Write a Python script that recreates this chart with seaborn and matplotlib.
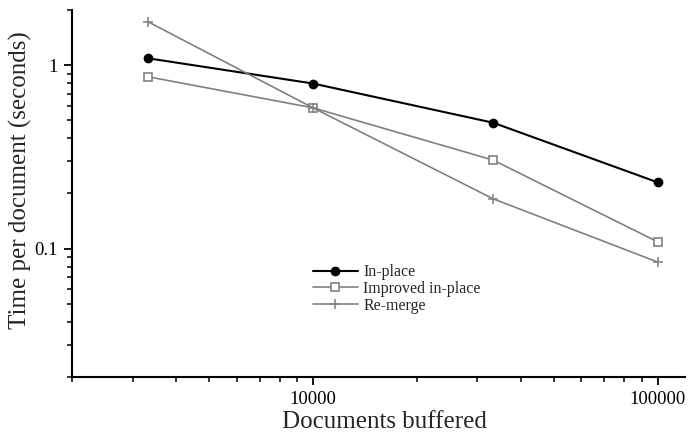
import pandas as pd
import matplotlib
matplotlib.use("Agg")
import matplotlib.pyplot as plt
import matplotlib.ticker as ticker
import seaborn as sns

# Datos
documentos = [3333, 10000, 33333, 100000]
in_place = [1.09, 0.795, 0.486, 0.23]
improved_in_place = [0.864, 0.586, 0.304, 0.109]
re_merge = [1.72, 0.586, 0.187, 0.0846]
series = ["In-place", "Improved in-place", "Re-merge"]

df = pd.DataFrame({
    "docs": documentos * 3,
    "tiempo": in_place + improved_in_place + re_merge,
    "serie": [s for s in series for _ in documentos],
})

sns.set_style("ticks")
plt.rcParams['font.family'] = ['Liberation Serif', 'DejaVu Serif']

fig = plt.figure(figsize=(6.88, 4.32), dpi=100)
ax = fig.add_axes([0.1047, 0.1273, 0.8909, 0.8496])

estilos = {
    "In-place": dict(color="black", marker="o", mfc="black", mec="black", ms=6, mew=1, lw=1.5),
    "Improved in-place": dict(color="#808080", marker="s", mfc="white", mec="#808080", ms=5.5, mew=1.2, lw=1.2),
    "Re-merge": dict(color="#808080", marker="+", mfc="none", mec="#808080", ms=6.5, mew=1.1, lw=1.2),
}
for s in series:
    sns.lineplot(data=df[df["serie"] == s], x="docs", y="tiempo", ax=ax, label=s, **estilos[s])

ax.set_xscale("log")
ax.set_yscale("log")
ax.set_xlim(2000, 120000)
ax.set_ylim(0.02, 2)

fmt = ticker.FuncFormatter(lambda v, _: f"{v:g}")
ax.xaxis.set_major_locator(ticker.FixedLocator([10000, 100000]))
ax.yaxis.set_major_locator(ticker.FixedLocator([0.1, 1]))
ax.xaxis.set_major_formatter(fmt)
ax.yaxis.set_major_formatter(fmt)
ax.xaxis.set_minor_locator(ticker.LogLocator(base=10, subs=range(2, 10)))
ax.yaxis.set_minor_locator(ticker.LogLocator(base=10, subs=range(2, 10)))
ax.xaxis.set_minor_formatter(ticker.NullFormatter())
ax.yaxis.set_minor_formatter(ticker.NullFormatter())

sns.despine(ax=ax)
for lado in ["left", "bottom"]:
    ax.spines[lado].set_linewidth(1.5)
    ax.spines[lado].set_color("black")
ax.tick_params(which="major", length=6, width=1.3, labelsize=13.5, colors="black", pad=4)
ax.tick_params(which="minor", length=3.5, width=1.1, colors="black")

ax.set_xlabel("Documents buffered", fontsize=18)
ax.set_ylabel("Time per document (seconds)", fontsize=18)
ax.xaxis.set_label_coords(0.509, -0.092)
ax.yaxis.set_label_coords(-0.066, 0.537)

ax.legend(loc="center left", bbox_to_anchor=(0.393, 0.24), frameon=False,
          fontsize=11.5, handlelength=2.8, handletextpad=0.35, labelspacing=0.05,
          borderpad=0, borderaxespad=0)

fig.savefig("out.png", dpi=100)
plt.close(fig)
